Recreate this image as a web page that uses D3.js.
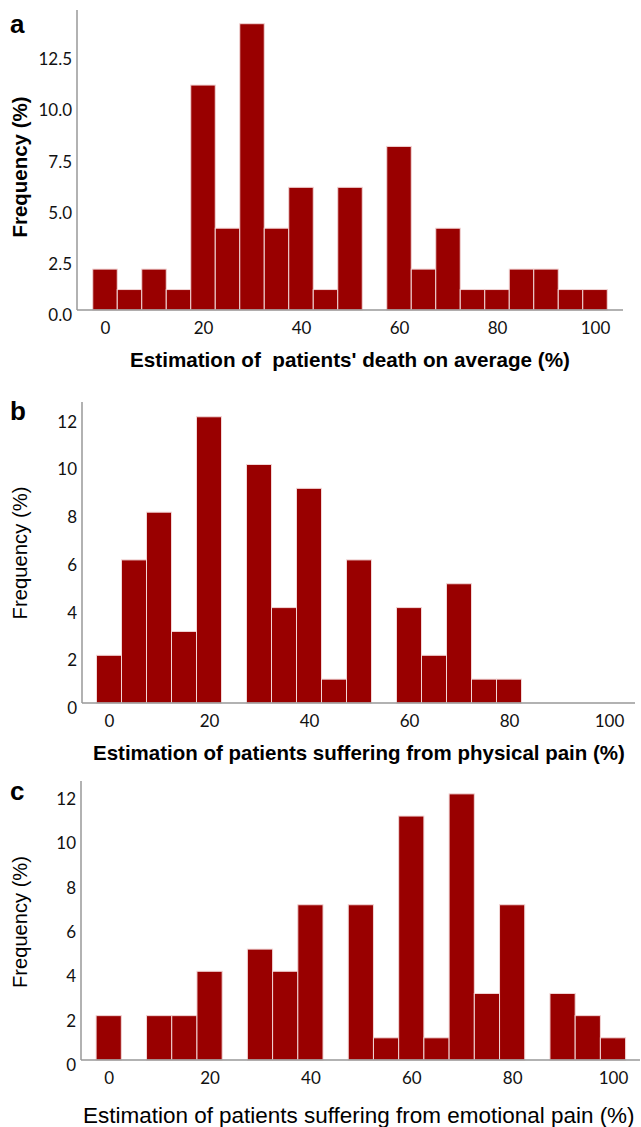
<!DOCTYPE html>
<html>
<head>
<meta charset="utf-8">
<script src="https://cdn.jsdelivr.net/npm/d3@7"></script>
<style>
  body { margin: 0; background: #fff; }
  svg { display: block; }
  .tick text { font-family: Lato, "DejaVu Sans", sans-serif; fill: #111; }
</style>
</head>
<body>
<svg id="chart" width="641" height="1127"></svg>
<script>
// bin centres (width 5)
var bins = [0, 5, 10, 15, 20, 25, 30, 35, 40, 45, 50, 55, 60, 65, 70, 75, 80, 85, 90, 95, 100];

var deathValues     = [2, 1, 2, 1, 11, 4, 14, 4, 6, 1, 6, 0, 8, 2, 4, 1, 1, 2, 2, 1, 1];
var physicalValues  = [2, 6, 8, 3, 12, 0, 10, 4, 9, 1, 6, 0, 4, 2, 5, 1, 1, 0, 0, 0, 0];
var emotionalValues = [2, 0, 2, 2, 4, 0, 5, 4, 7, 0, 7, 1, 11, 1, 12, 3, 7, 0, 3, 2, 1];

var xTicks = [0, 20, 40, 60, 80, 100];
var yTicksA = [0, 2.5, 5, 7.5, 10, 12.5];
var yTicksBC = [0, 2, 4, 6, 8, 10, 12];

var letters = ["a", "b", "c"];
var xTitles = [
    "Estimation of  patients' death on average (%)",
    "Estimation of patients suffering from physical pain (%)",
    "Estimation of patients suffering from emotional pain (%)"
];

var svg = d3.select('#chart');

var panels = [
    {values: deathValues, yTicks: yTicksA, fmt: d3.format(".1f"), yMax: 14.67,
     left: 77, top: 10, base: 310, x0: 105, x100: 595, axisEnd: 623,
     letterY: 33, yTitleY: 167, yTitleW: 141, yTitleBold: true,
     titleX: 130, titleW: 440, titleY: 367, titleBold: true},
    {values: physicalValues, yTicks: yTicksBC, fmt: d3.format("d"), yMax: 12.62,
     left: 82, top: 402, base: 703, x0: 109, x100: 609, axisEnd: 635,
     letterY: 420, yTitleY: 553, yTitleW: 133, yTitleBold: false,
     titleX: 93, titleW: 532, titleY: 760, titleBold: true},
    {values: emotionalValues, yTicks: yTicksBC, fmt: d3.format("d"), yMax: 12.58,
     left: 81, top: 781, base: 1060, x0: 108.7, x100: 613, axisEnd: 640,
     letterY: 800, yTitleY: 922, yTitleW: 132, yTitleBold: false,
     titleX: 83, titleW: 552, titleY: 1122.5, titleBold: false}
];

// shrink/grow a text's font size so it spans the given width
function fitWidth(sel, width) {
    var node = sel.node();
    var size = parseFloat(sel.attr("font-size"));
    var w = node.getComputedTextLength();
    sel.attr("font-size", size * width / w);
}

panels.forEach(function (p, i) {
    var x = d3.scaleLinear().domain([0, 100]).range([p.x0, p.x100]);
    var y = d3.scaleLinear().domain([0, p.yMax]).range([p.base, p.top]);
    var half = (x(5) - x(0)) / 2;

    var g = svg.append("g");

    g.selectAll(".bar")
        .data(bins.map(function (b, j) { return {bin: b, v: p.values[j]}; })
            .filter(function (d) { return d.v > 0; }))
        .enter().append("rect")
        .attr("class", "bar")
        .attr("x", function (d) { return x(d.bin) - half; })
        .attr("width", half * 2)
        .attr("y", function (d) { return y(d.v); })
        .attr("height", function (d) { return p.base - y(d.v); })
        .attr("fill", "#990000")
        .attr("stroke", "#f2d6d6")
        .attr("stroke-width", 1);

    // y axis
    var yAxis = g.append("g")
        .attr("transform", "translate(" + p.left + ",0)")
        .call(d3.axisLeft(y).tickValues(p.yTicks).tickFormat(p.fmt).tickSize(0).tickPadding(5));
    yAxis.select(".domain").remove();
    yAxis.selectAll("text").attr("font-size", 17).attr("y", 5);

    g.append("line")
        .attr("x1", p.left).attr("x2", p.left)
        .attr("y1", p.top).attr("y2", p.base)
        .attr("stroke", "#999").attr("stroke-width", 1.5);

    // x axis
    var xAxis = g.append("g")
        .attr("transform", "translate(0," + p.base + ")")
        .call(d3.axisBottom(x).tickValues(xTicks).tickSize(0).tickPadding(12));
    xAxis.select(".domain").remove();
    xAxis.selectAll("text").attr("font-size", 17);

    g.append("line")
        .attr("x1", p.left).attr("x2", p.axisEnd)
        .attr("y1", p.base).attr("y2", p.base)
        .attr("stroke", "#999").attr("stroke-width", 1.5);

    // panel letter
    g.append("text")
        .attr("x", 10).attr("y", p.letterY)
        .attr("font-family", "Liberation Sans, Arial, sans-serif")
        .attr("font-weight", "bold")
        .attr("font-size", 26)
        .text(letters[i]);

    // y title
    var yt = g.append("text")
        .attr("transform", "translate(27," + p.yTitleY + ") rotate(-90)")
        .attr("text-anchor", "middle")
        .attr("font-family", "Liberation Sans, Arial, sans-serif")
        .attr("font-weight", p.yTitleBold ? "bold" : "normal")
        .attr("font-size", 19)
        .text("Frequency (%)");
    fitWidth(yt, p.yTitleW);

    // x title
    var xt = g.append("text")
        .attr("x", p.titleX).attr("y", p.titleY)
        .attr("font-family", "Liberation Sans, Arial, sans-serif")
        .attr("font-weight", p.titleBold ? "bold" : "normal")
        .attr("font-size", 20)
        .style("white-space", "pre")
        .text(xTitles[i]);
    fitWidth(xt, p.titleW);
});
</script>
</body>
</html>
